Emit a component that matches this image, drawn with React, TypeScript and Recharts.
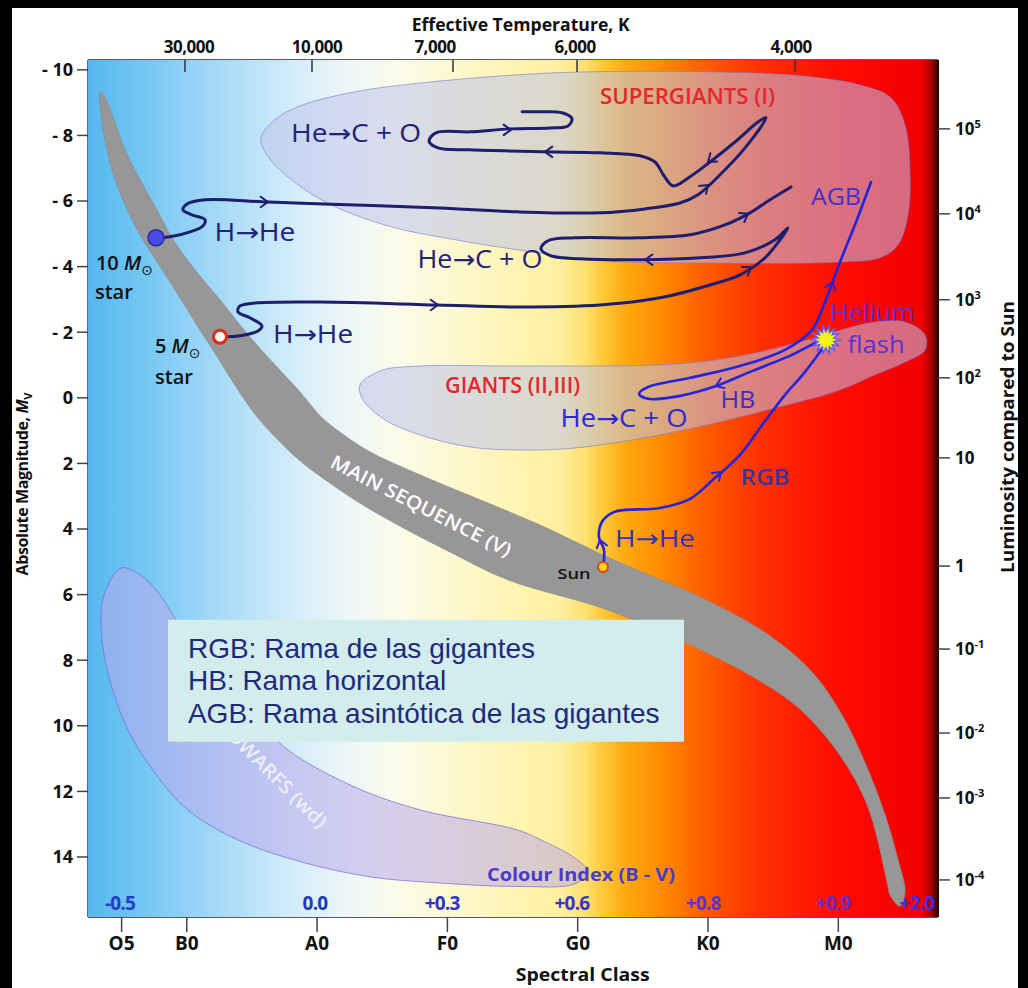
import React from 'react';
import { ScatterChart, Scatter, XAxis, YAxis } from 'recharts';

const FONT = "'Open Sans', 'DejaVu Sans', sans-serif";
const LEGEND_FONT = "'Liberation Sans', Arial, sans-serif";

// ---------- axes ----------
const X_DOMAIN = [2.42, 67.65];
const Y_DOMAIN = [-10.3, 15.83];
const spectralTicks = [5, 10, 20, 30, 40, 50, 60];
const spectralLabels = ['O5', 'B0', 'A0', 'F0', 'G0', 'K0', 'M0'];
const tempTicks = [9.86, 19.61, 30.43, 39.95, 56.68];
const tempLabels = ['30,000', '10,000', '7,000', '6,000', '4,000'];
const magTicks = [-10, -8, -6, -4, -2, 0, 2, 4, 6, 8, 10, 12, 14];
const lumTicks = [-8.2, -5.61, -2.99, -0.61, 1.83, 5.13, 7.66, 10.22, 12.2, 14.7];
const lumLabels = ['10^5', '10^4', '10^3', '10^2', '10', '1', '10^-1', '10^-2', '10^-3', '10^-4'];
const ciTicks = [4.87, 19.84, 29.59, 39.56, 49.62, 59.6, 66.04];
const ciLabels = ['-0.5', '0.0', '+0.3', '+0.6', '+0.8', '+0.9', '+2.0'];

// ---------- regions (spectral index, absolute magnitude) ----------
const mainSequence = [
  { x: 3.34, y: -9.33 }, { x: 3.8, y: -9.09 }, { x: 4.41, y: -8.48 }, { x: 5.26, y: -7.56 },
  { x: 6.41, y: -6.65 }, { x: 7.71, y: -5.73 }, { x: 8.86, y: -4.88 }, { x: 10.63, y: -3.9 },
  { x: 12.55, y: -2.99 }, { x: 14.7, y: -1.92 }, { x: 16.77, y: -1.0 }, { x: 18.69, y: -0.18 },
  { x: 20.38, y: 0.61 }, { x: 22.14, y: 1.16 }, { x: 24.06, y: 1.65 }, { x: 27.9, y: 2.35 },
  { x: 32.5, y: 3.11 }, { x: 37.11, y: 3.88 }, { x: 42.09, y: 4.82 }, { x: 46.32, y: 5.55 },
  { x: 50.15, y: 6.22 }, { x: 54.76, y: 7.26 }, { x: 57.98, y: 8.36 }, { x: 60.28, y: 9.67 },
  { x: 62.13, y: 11.2 }, { x: 63.59, y: 12.72 }, { x: 64.58, y: 14.09 }, { x: 65.12, y: 15.07 },
  { x: 64.73, y: 15.5 }, { x: 63.97, y: 15.16 }, { x: 63.82, y: 14.9 }, { x: 62.28, y: 12.48 },
  { x: 60.21, y: 10.95 }, { x: 57.14, y: 9.52 }, { x: 53.84, y: 8.6 }, { x: 49.0, y: 7.6 },
  { x: 42.33, y: 6.47 }, { x: 34.65, y: 5.55 }, { x: 30.2, y: 4.7 }, { x: 26.36, y: 3.91 },
  { x: 23.29, y: 3.21 }, { x: 20.99, y: 2.6 }, { x: 18.69, y: 1.92 }, { x: 17.0, y: 1.28 },
  { x: 15.46, y: 0.61 }, { x: 13.93, y: -0.24 }, { x: 12.39, y: -1.22 }, { x: 11.01, y: -2.07 },
  { x: 9.48, y: -3.05 }, { x: 7.94, y: -4.02 }, { x: 6.41, y: -4.97 }, { x: 5.26, y: -5.88 },
  { x: 4.26, y: -6.95 }, { x: 3.65, y: -8.02 }, { x: 3.34, y: -8.93 },
];

const supergiants = [
  { x: 15.69, y: -7.93 }, { x: 16.77, y: -8.48 }, { x: 18.69, y: -8.9 }, { x: 22.91, y: -9.33 },
  { x: 27.97, y: -9.6 }, { x: 35.42, y: -9.85 }, { x: 41.02, y: -9.94 }, { x: 50.0, y: -9.94 },
  { x: 57.06, y: -9.82 }, { x: 61.67, y: -9.54 }, { x: 64.04, y: -9.15 }, { x: 65.12, y: -8.32 },
  { x: 65.5, y: -6.95 }, { x: 65.35, y: -5.58 }, { x: 64.58, y: -4.66 }, { x: 63.2, y: -4.27 },
  { x: 60.13, y: -4.14 }, { x: 50.0, y: -4.11 }, { x: 41.71, y: -4.18 }, { x: 35.42, y: -4.51 },
  { x: 30.59, y: -4.82 }, { x: 25.44, y: -5.24 }, { x: 20.3, y: -6.04 }, { x: 17.15, y: -6.95 },
  { x: 16.0, y: -7.5 },
];

const giants = [
  { x: 23.29, y: -0.39 }, { x: 24.83, y: -0.82 }, { x: 27.9, y: -0.97 }, { x: 35.42, y: -0.97 },
  { x: 47.47, y: -1.03 }, { x: 52.54, y: -1.28 }, { x: 57.67, y: -1.77 }, { x: 60.21, y: -2.07 },
  { x: 62.82, y: -2.31 }, { x: 65.12, y: -2.31 }, { x: 66.65, y: -1.92 }, { x: 66.65, y: -1.46 },
  { x: 65.12, y: -1.09 }, { x: 62.82, y: -0.7 }, { x: 60.13, y: -0.24 }, { x: 55.14, y: 0.31 },
  { x: 47.47, y: 1.04 }, { x: 39.79, y: 1.53 }, { x: 35.42, y: 1.59 }, { x: 31.74, y: 1.5 },
  { x: 27.9, y: 1.13 }, { x: 25.21, y: 0.67 }, { x: 23.52, y: 0.06 },
];

const whiteDwarfs = [
  { x: 4.95, y: 5.19 }, { x: 6.41, y: 5.4 }, { x: 7.79, y: 5.92 }, { x: 9.17, y: 6.77 },
  { x: 11.01, y: 7.84 }, { x: 13.32, y: 8.91 }, { x: 15.46, y: 9.82 }, { x: 17.77, y: 10.74 },
  { x: 22.91, y: 11.87 }, { x: 27.97, y: 12.57 }, { x: 35.42, y: 13.18 }, { x: 37.49, y: 13.54 },
  { x: 39.79, y: 14.03 }, { x: 40.79, y: 14.46 }, { x: 39.79, y: 14.82 }, { x: 35.42, y: 14.9 },
  { x: 29.28, y: 14.79 }, { x: 24.14, y: 14.61 }, { x: 19.07, y: 14.18 }, { x: 13.93, y: 13.48 },
  { x: 10.09, y: 12.57 }, { x: 7.56, y: 11.44 }, { x: 5.49, y: 10.13 }, { x: 3.95, y: 8.39 },
  { x: 3.42, y: 6.99 }, { x: 3.65, y: 6.01 },
];

// ---------- evolutionary tracks ----------
const track10 = [
  { x: 7.64, y: -4.88 }, { x: 8.71, y: -4.91 }, { x: 10.25, y: -5.06 }, { x: 11.24, y: -5.24 },
  { x: 11.4, y: -5.43 }, { x: 10.4, y: -5.58 }, { x: 9.71, y: -5.73 }, { x: 10.02, y: -5.91 },
  { x: 11.4, y: -6.04 }, { x: 16.23, y: -5.97 }, { x: 22.91, y: -5.88 }, { x: 29.43, y: -5.79 },
  { x: 35.42, y: -5.67 }, { x: 41.71, y: -5.64 }, { x: 45.17, y: -5.76 }, { x: 47.85, y: -5.94 },
  { x: 49.23, y: -6.19 }, { x: 50.92, y: -6.8 }, { x: 52.84, y: -7.62 }, { x: 54.45, y: -8.54 },
  { x: 53.84, y: -8.41 }, { x: 52.07, y: -7.8 }, { x: 50.15, y: -7.19 }, { x: 48.62, y: -6.74 },
  { x: 47.32, y: -6.46 }, { x: 46.62, y: -6.77 }, { x: 45.93, y: -7.19 }, { x: 44.78, y: -7.38 },
  { x: 41.71, y: -7.47 }, { x: 37.49, y: -7.5 }, { x: 31.74, y: -7.56 }, { x: 29.28, y: -7.62 },
  { x: 28.59, y: -7.83 }, { x: 29.12, y: -8.08 }, { x: 31.74, y: -8.11 }, { x: 34.8, y: -8.2 },
  { x: 37.87, y: -8.23 }, { x: 39.26, y: -8.29 }, { x: 39.56, y: -8.51 }, { x: 38.8, y: -8.69 },
  { x: 37.11, y: -8.72 }, { x: 35.73, y: -8.72 },
];

const track5 = [
  { x: 12.55, y: -1.86 }, { x: 14.08, y: -1.89 }, { x: 15.46, y: -2.04 }, { x: 15.77, y: -2.19 },
  { x: 14.85, y: -2.44 }, { x: 13.93, y: -2.62 }, { x: 14.08, y: -2.8 }, { x: 15.23, y: -2.89 },
  { x: 20.3, y: -2.92 }, { x: 29.28, y: -2.83 }, { x: 35.42, y: -2.77 }, { x: 41.71, y: -2.83 },
  { x: 46.32, y: -3.05 }, { x: 50.15, y: -3.44 }, { x: 52.46, y: -3.75 }, { x: 54.37, y: -4.27 },
  { x: 55.53, y: -4.82 }, { x: 56.14, y: -5.18 }, { x: 55.14, y: -4.82 }, { x: 52.84, y: -4.42 },
  { x: 49.39, y: -4.27 }, { x: 44.86, y: -4.21 }, { x: 40.18, y: -4.24 }, { x: 37.95, y: -4.33 },
  { x: 37.18, y: -4.54 }, { x: 37.72, y: -4.79 }, { x: 39.79, y: -4.88 }, { x: 44.78, y: -4.88 },
  { x: 48.62, y: -4.97 }, { x: 51.3, y: -5.27 }, { x: 53.22, y: -5.64 }, { x: 54.76, y: -6.04 },
  { x: 56.37, y: -6.43 },
];

const trackSun = [
  { x: 41.94, y: 5.16 }, { x: 42.02, y: 4.64 }, { x: 41.63, y: 4.24 }, { x: 41.87, y: 3.78 },
  { x: 42.79, y: 3.48 }, { x: 46.32, y: 3.36 }, { x: 48.62, y: 3.08 }, { x: 50.54, y: 2.44 },
  { x: 52.46, y: 1.74 }, { x: 54.15, y: 0.83 }, { x: 55.91, y: -0.09 }, { x: 57.44, y: -0.79 },
  { x: 59.05, y: -1.77 }, { x: 56.29, y: -1.28 }, { x: 53.22, y: -0.79 }, { x: 50.61, y: -0.36 },
  { x: 47.85, y: -0.06 }, { x: 45.4, y: 0.03 }, { x: 44.71, y: -0.12 }, { x: 45.4, y: -0.33 },
  { x: 48.62, y: -0.61 }, { x: 52.46, y: -0.97 }, { x: 55.91, y: -1.46 }, { x: 57.98, y: -2.07 },
  { x: 59.05, y: -2.99 }, { x: 60.13, y: -4.14 }, { x: 61.36, y: -5.36 }, { x: 62.51, y: -6.58 },
];

// direction of travel in degrees (0 = towards cooler, 90 = fainter)
const arrows10 = [
  { x: 16.23, y: -5.97, dir: 0 }, { x: 37.49, y: -7.5, dir: 180 }, { x: 34.88, y: -8.17, dir: 0 },
  { x: 50.0, y: -6.49, dir: -42 }, { x: 50.0, y: -7.19, dir: 141 },
];
const arrows5 = [
  { x: 29.28, y: -2.83, dir: 0 }, { x: 53.3, y: -3.98, dir: -34 }, { x: 45.17, y: -4.21, dir: 180 },
  { x: 53.07, y: -5.61, dir: -30 },
];
const arrowsSun = [
  { x: 41.71, y: 4.33, dir: -105 }, { x: 50.99, y: 2.26, dir: -43 }, { x: 50.61, y: -0.36, dir: 158 },
  { x: 59.56, y: -3.53, dir: -70 },
];

const starMarks = [
  { x: 7.64, y: -4.88, kind: 'massive' },
  { x: 12.55, y: -1.86, kind: 'intermediate' },
  { x: 41.94, y: 5.16, kind: 'sun' },
  { x: 59.05, y: -1.77, kind: 'flash' },
];

// ---------- annotations ----------
const notes = [
  { id: 'hecoTop', x: 22.99, y: -8.08, text: 'He→C + O' },
  { id: 'hhe10', x: 15.23, y: -5.06, text: 'H→He' },
  { id: 'hecoMid', x: 32.5, y: -4.21, text: 'He→C + O' },
  { id: 'hhe5', x: 19.69, y: -1.95, text: 'H→He' },
  { id: 'sg', x: 48.43, y: -9.18, text: 'SUPERGIANTS (I)' },
  { id: 'giants', x: 35.0, y: -0.39, text: 'GIANTS (II,III)' },
  { id: 'agb', x: 59.82, y: -6.13, text: 'AGB' },
  { id: 'helium', x: 62.59, y: -2.59, text: 'Helium' },
  { id: 'flash', x: 62.9, y: -1.61, text: 'flash' },
  { id: 'hb', x: 52.3, y: 0.06, text: 'HB' },
  { id: 'hecoSun', x: 43.55, y: 0.61, text: 'He→C + O' },
  { id: 'rgb', x: 54.37, y: 2.41, text: 'RGB' },
  { id: 'hheSun', x: 45.93, y: 4.3, text: 'H→He' },
  { id: 'sun', x: 39.72, y: 5.37, text: 'Sun' },
  { id: 'm10', x: 3.03, y: -4.11, text: '10 M⊙' },
  { id: 'star10', x: 2.95, y: -3.23, text: 'star' },
  { id: 'm5', x: 7.56, y: -1.58, text: '5 M⊙' },
  { id: 'star5', x: 7.56, y: -0.64, text: 'star' },
];
const bandNotes = [
  { id: 'ms', x: 27.98, y: 3.3, text: 'MAIN SEQUENCE (V)' },
  { id: 'wd', x: 15.08, y: 10.86, text: 'WHITE DWARFS (wd)' },
];
const ciTitle = [{ id: 'ci', x: 40.25, y: 14.55, text: 'Colour Index (B - V)' }];
const CI_ROW = 15.4;

const legendBox = [
  { x: 8.56, y: 6.77 }, { x: 48.16, y: 6.77 }, { x: 48.16, y: 10.49 }, { x: 8.56, y: 10.49 },
];
const legendLines = [
  { x: 10.09, y: 7.93, text: 'RGB: Rama de las gigantes' },
  { x: 10.09, y: 8.91, text: 'HB: Rama horizontal' },
  { x: 10.09, y: 9.91, text: 'AGB: Rama asintótica de las gigantes' },
];

// ---------- styles ----------
const NAVY = '#222278';
const noteStyles: Record<string, any> = {
  hecoTop: { color: NAVY, size: 25, width: 130 },
  hhe10: { color: NAVY, size: 25, width: 81 },
  hecoMid: { color: NAVY, size: 25, width: 125 },
  hhe5: { color: NAVY, size: 25, width: 80 },
  sg: { color: '#e5262d', size: 22, weight: 600, width: 175 },
  giants: { color: '#e5262d', size: 22, weight: 600, width: 135 },
  agb: { color: '#4530c8', size: 23, width: 50 },
  helium: { color: '#6a2ad2', size: 23, width: 85 },
  flash: { color: '#5a30d4', size: 23, width: 57 },
  hb: { color: '#3b32bc', size: 23, width: 35 },
  hecoSun: { color: '#2b2bd6', size: 25, width: 127 },
  rgb: { color: '#39359e', size: 22, weight: 600, width: 49 },
  hheSun: { color: '#3232b4', size: 24, width: 80 },
  sun: { color: '#111', size: 15, weight: 600, width: 33 },
  m10: { color: '#111', size: 20, weight: 600, anchor: 'start' },
  star10: { color: '#111', size: 20, weight: 600, width: 38, anchor: 'start' },
  m5: { color: '#111', size: 20, weight: 600, anchor: 'start' },
  star5: { color: '#111', size: 20, weight: 600, width: 38, anchor: 'start' },
  ms: { color: '#ffffff', size: 19, weight: 600, width: 200, rotate: 27 },
  wd: { color: '#f6f2ff', size: 19, weight: 600, width: 200, rotate: 45, opacity: 0.9 },
  ci: { color: '#4a3cc8', size: 18, weight: 700, width: 188 },
};
const ciColors = ['#2040c4', '#1e3ab8', '#2c36c4', '#3634c4', '#5838c8', '#6a2cc0', '#3c2ee0'];
const tempLabelDx = [4, 5, -18, -2, -4];

const bgStops: [number, string][] = [
  [88, '#56b7ef'], [140, '#72c6f3'], [190, '#93d2f6'], [250, '#b9e2f8'], [300, '#d6eef9'],
  [350, '#eef7f8'], [400, '#fbfbe8'], [455, '#fdf8cf'], [518, '#fff4b0'], [560, '#fff0a0'],
  [585, '#ffe070'], [600, '#ffcc40'], [625, '#ffaa10'], [660, '#ff8c00'], [705, '#ff5c00'],
  [760, '#ff3000'], [810, '#ff1800'], [850, '#ff0800'], [922, '#f00000'], [932, '#a00000'], [938, '#300000'],
];

// ---------- curve: centripetal Catmull-Rom (open / closed) ----------
function catmull(closed: boolean) {
  return (ctx: any) => {
    let pts: number[][] = [];
    const d = (a: number[], b: number[]) => Math.hypot(b[0] - a[0], b[1] - a[1]);
    const seg = (p0: number[], p1: number[], p2: number[], p3: number[]) => {
      const l01 = d(p0, p1), l12 = d(p1, p2), l23 = d(p2, p3);
      const l01a = Math.sqrt(l01), l12a = Math.sqrt(l12), l23a = Math.sqrt(l23);
      let c1x = p1[0], c1y = p1[1], c2x = p2[0], c2y = p2[1];
      if (l01a > 1e-6) {
        const a = 2 * l01 + 3 * l01a * l12a + l12;
        const n = 3 * l01a * (l01a + l12a);
        c1x = (p1[0] * a - p0[0] * l12 + p2[0] * l01) / n;
        c1y = (p1[1] * a - p0[1] * l12 + p2[1] * l01) / n;
      }
      if (l23a > 1e-6) {
        const b = 2 * l23 + 3 * l23a * l12a + l12;
        const m = 3 * l23a * (l23a + l12a);
        c2x = (p2[0] * b + p1[0] * l23 - p3[0] * l12) / m;
        c2y = (p2[1] * b + p1[1] * l23 - p3[1] * l12) / m;
      }
      ctx.bezierCurveTo(c1x, c1y, c2x, c2y, p2[0], p2[1]);
    };
    return {
      areaStart() {},
      areaEnd() {},
      lineStart() { pts = []; },
      point(x: number, y: number) { pts.push([+x, +y]); },
      lineEnd() {
        const n = pts.length;
        if (!n) return;
        ctx.moveTo(pts[0][0], pts[0][1]);
        if (n < 2) return;
        const g = (i: number) => (closed ? pts[(i + n) % n] : pts[Math.max(0, Math.min(n - 1, i))]);
        const count = closed ? n : n - 1;
        for (let i = 0; i < count; i++) seg(g(i - 1), g(i), g(i + 1), g(i + 2));
        if (closed) ctx.closePath();
      },
    };
  };
}
const OPEN_CURVE = catmull(false);
const CLOSED_CURVE = catmull(true);

// ---------- shapes ----------
const Nothing = () => <g />;

const NoteShape = (props: any) => {
  const { cx, cy, payload } = props;
  const st = noteStyles[payload.id] || {};
  const anchor = st.anchor || 'middle';
  const txt: string = payload.text;
  const isMass = txt.includes('M⊙');
  const common: any = {
    x: cx, y: cy, dy: '0.35em', textAnchor: anchor, fill: st.color, fontSize: st.size,
    fontWeight: st.weight || 400, fontFamily: FONT, opacity: st.opacity ?? 1,
    transform: st.rotate ? `rotate(${st.rotate} ${cx} ${cy})` : undefined,
  };
  if (st.width && !isMass) {
    common.textLength = st.width;
    common.lengthAdjust = 'spacingAndGlyphs';
  }
  if (isMass) {
    const num = txt.replace(' M⊙', '');
    return (
      <text {...common}>
        {num + ' '}
        <tspan fontStyle="italic">M</tspan>
        <tspan fontSize={14} dy={5} fontWeight={400}>⊙</tspan>
      </text>
    );
  }
  return <text {...common}>{txt}</text>;
};

const LegendTextShape = (props: any) => {
  const { cx, cy, payload } = props;
  return (
    <text x={cx} y={cy} fill="#1f2a7a" fontSize={28} fontFamily={LEGEND_FONT} textAnchor="start">
      {payload.text}
    </text>
  );
};

const CiShape = (props: any) => {
  const { cx, cy, payload } = props;
  return (
    <text x={cx} y={cy} dy="0.35em" textAnchor="middle" fill={payload.color} fontSize={19}
      fontWeight={700} fontFamily={FONT} letterSpacing={-0.8}>
      {payload.text}
    </text>
  );
};

const makeArrow = (color: string) => (props: any) => {
  const { cx, cy, payload } = props;
  const a = (payload.dir * Math.PI) / 180;
  const L = 9;
  const s = 0.62;
  const p1x = cx - L * Math.cos(a - s), p1y = cy - L * Math.sin(a - s);
  const p2x = cx - L * Math.cos(a + s), p2y = cy - L * Math.sin(a + s);
  return (
    <path d={`M${p1x},${p1y} L${cx},${cy} L${p2x},${p2y}`} stroke={color} strokeWidth={2}
      fill="none" strokeLinecap="round" strokeLinejoin="round" />
  );
};
const Arrow10 = makeArrow('#1e1e6e');
const ArrowSun = makeArrow('#2424d8');

const MarkShape = (props: any) => {
  const { cx, cy, payload } = props;
  if (payload.kind === 'massive') {
    return <circle cx={cx} cy={cy} r={8} fill="#4b4bea" stroke="#2a2a9a" strokeWidth={1.5} />;
  }
  if (payload.kind === 'intermediate') {
    return <circle cx={cx} cy={cy} r={6.5} fill="#fff6f2" stroke="#e02a1a" strokeWidth={3} />;
  }
  if (payload.kind === 'sun') {
    return <circle cx={cx} cy={cy} r={5} fill="#ffd21a" stroke="#e0401a" strokeWidth={2} />;
  }
  const spikes = 14;
  const pts: string[] = [];
  for (let i = 0; i < spikes * 2; i++) {
    const r = i % 2 === 0 ? 14 : 8;
    const ang = (Math.PI * i) / spikes;
    pts.push(`${cx + r * Math.cos(ang)},${cy + r * Math.sin(ang)}`);
  }
  return <polygon points={pts.join(' ')} fill="#f4f41a" stroke="#6a5cf0" strokeWidth={1.5} />;
};

// ---------- ticks & titles ----------
const TempTick = (props: any) => {
  const { x, y, payload } = props;
  const i = tempTicks.indexOf(payload.value);
  return (
    <g>
      <line x1={x} y1={y} x2={x} y2={y + 12} stroke="#333" strokeWidth={1.5} />
      <text x={x + (tempLabelDx[i] ?? 0)} y={y - 13} dy="0.35em" textAnchor="middle" fontFamily={FONT}
        fontWeight={700} fontSize={17} fill="#111" letterSpacing={-0.5}>
        {tempLabels[i]}
      </text>
    </g>
  );
};

const LumTick = (props: any) => {
  const { x, y, payload } = props;
  const i = lumTicks.indexOf(payload.value);
  const lab = lumLabels[i] ?? '';
  const [base, exp] = lab.split('^');
  return (
    <text x={x} y={y} dy="0.36em" textAnchor="start" fontFamily={FONT} fontWeight={700}
      fontSize={17} fill="#111">
      {base}
      {exp ? <tspan dy={-7} fontSize={11}>{exp}</tspan> : null}
    </text>
  );
};

const titleStyle = { fontFamily: FONT, fontWeight: 700, fontSize: 17, fill: '#111' };

const SpecTitle = (p: any) => {
  const vb = p.viewBox || { x: 88, y: 917, width: 850, height: 40 };
  return (
    <text x={vb.x + vb.width * 0.582} y={vb.y + vb.height + 18} dy="0.35em" textAnchor="middle"
      textLength={134} lengthAdjust="spacingAndGlyphs" {...titleStyle}>
      Spectral Class
    </text>
  );
};
const TempTitle = (p: any) => {
  const vb = p.viewBox || { x: 88, y: 20, width: 850, height: 40 };
  return (
    <text x={vb.x + vb.width * 0.509} y={vb.y + 5} dy="0.35em" textAnchor="middle"
      textLength={218} lengthAdjust="spacingAndGlyphs" {...titleStyle}>
      Effective Temperature, K
    </text>
  );
};
const MagTitle = (p: any) => {
  const vb = p.viewBox || { x: 28, y: 60, width: 60, height: 857 };
  const cx = vb.x - 6;
  const cy = vb.y + vb.height * 0.495;
  return (
    <text x={cx} y={cy} dy="0.35em" textAnchor="middle" transform={`rotate(-90 ${cx} ${cy})`}
      {...titleStyle} fontSize={16} letterSpacing={-0.4}>
      Absolute Magnitude, <tspan fontStyle="italic">M</tspan>
      <tspan fontSize={11} dy={4}>V</tspan>
    </text>
  );
};
const LumTitle = (p: any) => {
  const vb = p.viewBox || { x: 938, y: 60, width: 70, height: 857 };
  const cx = vb.x + vb.width;
  const cy = vb.y + vb.height * 0.44;
  return (
    <text x={cx} y={cy} dy="0.35em" textAnchor="middle" transform={`rotate(-90 ${cx} ${cy})`}
      textLength={272} lengthAdjust="spacingAndGlyphs" {...titleStyle}>
      Luminosity compared to Sun
    </text>
  );
};

export default function App() {
  const bgRect = [
    { x: X_DOMAIN[0], y: Y_DOMAIN[0] }, { x: X_DOMAIN[1], y: Y_DOMAIN[0] },
    { x: X_DOMAIN[1], y: Y_DOMAIN[1] }, { x: X_DOMAIN[0], y: Y_DOMAIN[1] },
  ];
  const ciData = ciTicks.map((x, i) => ({ x, y: CI_ROW, text: ciLabels[i], color: ciColors[i] }));
  const ax = { xAxisId: 'spec', yAxisId: 'mag', isAnimationActive: false };
  const regionLine = { fill: 'rgba(190,195,235,0.55)', stroke: 'rgba(120,120,205,0.6)', strokeWidth: 1 };

  return (
    <div style={{ position: 'absolute', left: 0, top: 0, width: 1028, height: 988, background: '#000', overflow: 'hidden' }}>
      <div style={{ position: 'absolute', left: 12, top: 8, width: 1006, height: 980, background: '#fff' }} />
      <div style={{ position: 'absolute', left: 0, top: 0 }}>
        <ScatterChart width={1028} height={988} margin={{ top: 20, right: 20, bottom: 31, left: 28 }}>
          <defs>
            <linearGradient id="hrBg" x1="0" y1="0" x2="1" y2="0">
              {bgStops.map(([px, c]) => (
                <stop key={px} offset={(px - 88) / 850} stopColor={c} />
              ))}
            </linearGradient>
          </defs>

          <Scatter {...ax} data={bgRect} shape={Nothing}
            line={{ fill: 'url(#hrBg)', stroke: 'none' }} lineJointType="linearClosed" />
          <Scatter {...ax} data={whiteDwarfs} shape={Nothing}
            line={{ fill: 'rgba(185,170,235,0.55)', stroke: 'rgba(110,110,210,0.7)', strokeWidth: 1 }}
            lineJointType={CLOSED_CURVE} />
          <Scatter {...ax} data={supergiants} shape={Nothing} line={regionLine} lineJointType={CLOSED_CURVE} />
          <Scatter {...ax} data={giants} shape={Nothing} line={regionLine} lineJointType={CLOSED_CURVE} />
          <Scatter {...ax} data={mainSequence} shape={Nothing}
            line={{ fill: '#979797', stroke: '#8e8e8e', strokeWidth: 0.8 }} lineJointType={CLOSED_CURVE} />
          <Scatter {...ax} data={bandNotes} shape={NoteShape} />

          <Scatter {...ax} data={track10} shape={Nothing}
            line={{ stroke: '#1e1e6e', strokeWidth: 3, fill: 'none', strokeLinejoin: 'round', strokeLinecap: 'round' }}
            lineJointType={OPEN_CURVE} />
          <Scatter {...ax} data={track5} shape={Nothing}
            line={{ stroke: '#1e1e6e', strokeWidth: 3, fill: 'none', strokeLinejoin: 'round', strokeLinecap: 'round' }}
            lineJointType={OPEN_CURVE} />
          <Scatter {...ax} data={trackSun} shape={Nothing}
            line={{ stroke: '#2424d8', strokeWidth: 2.6, fill: 'none', strokeLinejoin: 'round', strokeLinecap: 'round' }}
            lineJointType={OPEN_CURVE} />

          <Scatter {...ax} data={arrows10} shape={Arrow10} />
          <Scatter {...ax} data={arrows5} shape={Arrow10} />
          <Scatter {...ax} data={arrowsSun} shape={ArrowSun} />
          <Scatter {...ax} data={starMarks} shape={MarkShape} />
          <Scatter xAxisId="temp" yAxisId="lum" isAnimationActive={false} data={notes} shape={NoteShape} />

          <Scatter {...ax} data={legendBox} shape={Nothing}
            line={{ fill: '#d3eded', stroke: 'none' }} lineJointType="linearClosed" />
          <Scatter {...ax} data={legendLines} shape={LegendTextShape} />
          <Scatter {...ax} data={ciTitle} shape={NoteShape} />
          <Scatter {...ax} data={ciData} shape={CiShape} />

          <XAxis xAxisId="spec" type="number" dataKey="x" orientation="bottom" domain={X_DOMAIN}
            allowDataOverflow ticks={spectralTicks} interval={0} height={40}
            tickFormatter={(v: number) => spectralLabels[spectralTicks.indexOf(v)] ?? ''}
            tick={{ fill: '#111', fontSize: 19, fontWeight: 700, fontFamily: FONT }}
            tickSize={15} tickMargin={5}
            tickLine={{ stroke: '#444', strokeWidth: 1.5 }}
            axisLine={{ stroke: '#5a5a66', strokeWidth: 2 }}
            label={{ content: SpecTitle }} />
          <XAxis xAxisId="temp" type="number" dataKey="x" orientation="top" domain={X_DOMAIN}
            allowDataOverflow ticks={tempTicks} interval={0} height={40}
            tick={TempTick} tickSize={0} tickMargin={0} tickLine={false}
            axisLine={{ stroke: '#5a5a66', strokeWidth: 2 }}
            label={{ content: TempTitle }} />
          <YAxis yAxisId="mag" type="number" dataKey="y" orientation="left" domain={Y_DOMAIN}
            reversed allowDataOverflow ticks={magTicks} interval={0} width={60}
            tickFormatter={(v: number) => (v < 0 ? `- ${-v}` : `${v}`)}
            tick={{ fill: '#111', fontSize: 18, fontWeight: 700, fontFamily: FONT }}
            tickSize={11} tickMargin={4}
            tickLine={{ stroke: '#444', strokeWidth: 1.5 }}
            axisLine={{ stroke: '#6c5f7c', strokeWidth: 2 }}
            label={{ content: MagTitle }} />
          <YAxis yAxisId="lum" type="number" dataKey="y" orientation="right" domain={Y_DOMAIN}
            reversed allowDataOverflow ticks={lumTicks} interval={0} width={70}
            tick={LumTick} tickSize={12} tickMargin={5}
            tickLine={{ stroke: '#444', strokeWidth: 1.5 }}
            axisLine={{ stroke: '#1a0000', strokeWidth: 2 }}
            label={{ content: LumTitle }} />
        </ScatterChart>
      </div>
    </div>
  );
}
